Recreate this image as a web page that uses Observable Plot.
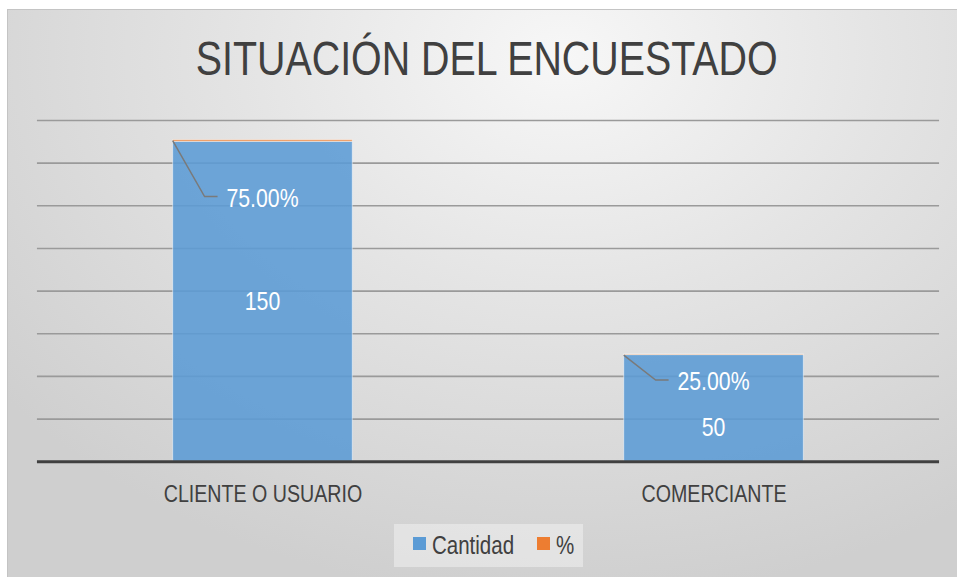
<!DOCTYPE html>
<html>
<head>
<meta charset="utf-8">
<script src="https://cdn.jsdelivr.net/npm/d3@7"></script>
<script src="https://cdn.jsdelivr.net/npm/@observablehq/plot@0.6"></script>
<style>
  html, body { margin: 0; padding: 0; background: #ffffff; overflow: hidden; }
  body { width: 957px; height: 577px; position: relative; }
  #chart {
    position: absolute; left: 7px; top: 9px; width: 960px; height: 575px;
    box-sizing: border-box; border: 1px solid #c4c4c4;
    background: radial-gradient(ellipse 75% 95% at 58% 8%, #f7f7f7 0%, #e4e4e4 45%, #cfcfcf 100%);
    font-family: "Liberation Sans", Arial, sans-serif;
    overflow: hidden;
  }
  .narrow { display: inline-block; transform: scaleX(0.82); transform-origin: center; white-space: nowrap; }
  #title {
    position: absolute; left: 0; top: 21px; width: 958px; text-align: center;
    font-size: 48px; line-height: 56px; color: #404040;
  }
  #plot { position: absolute; left: 0; top: 90px; }
  #legend {
    position: absolute; left: 386px; top: 514px; width: 189px; height: 43px;
    background: rgba(240,240,240,0.55);
    font-size: 25px; color: #404040;
  }
  .sw { position: absolute; width: 13px; height: 13px; top: 13px; }
  .lbl { position: absolute; top: 0; transform-origin: left center; }
</style>
</head>
<body>
<div id="chart">
  <div id="title"><span class="narrow">SITUACIÓN DEL ENCUESTADO</span></div>
  <div id="plot"></div>
  <div id="legend"></div>
</div>
<script>
const categories = ["CLIENTE O USUARIO", "COMERCIANTE"];
const cantidad = [150, 50];
const porcentaje = [0.75, 0.25];
const series = ["Cantidad", "%"];
const seriesColors = ["#5B9BD5", "#ED7D31"];
const gridTicks = [20, 40, 60, 80, 100, 120, 140, 160];
const percentLabels = ["75.00%", "25.00%"];

const rows = categories.flatMap((c, i) => [
  {cat: c, serie: series[0], value: cantidad[i]},
  {cat: c, serie: series[1], value: porcentaje[i]}
]);

// per-label pixel offsets (style, not data)
const pctOffset = [57, 26];
const cantOffset = [0, 19];
const NARROW = 0.82;

function bw(x) { return typeof x.bandwidth === "function" ? x.bandwidth() : (x.bandwidth || 0); }

function labelMark(index, scales) {
  const g = d3.create("svg:g");
  const x = scales.x, y = scales.y, w = bw(x);
  categories.forEach((c, i) => {
    const left = x(c) + 136;
    const cx = x(c) + w / 2;
    const top = y(cantidad[i] + porcentaje[i]) + 1;
    const ly = top + pctOffset[i];
    g.append("path")
      .attr("d", `M${left},${top}L${left + 32},${ly - 1}L${left + 45},${ly - 1}`)
      .attr("fill", "none").attr("stroke", "#7a7a7a").attr("stroke-width", 1.5);
    g.append("text")
      .attr("transform", `translate(${cx},${ly})`)
      .attr("text-anchor", "middle").attr("dy", "0.35em")
      .attr("fill", "#ffffff").attr("font-size", 26)
      .text(percentLabels[i]);
    g.append("text")
      .attr("transform", `translate(${cx},${y(cantidad[i] / 2) + cantOffset[i]})`)
      .attr("text-anchor", "middle").attr("dy", "0.35em")
      .attr("fill", "#ffffff").attr("font-size", 26)
      .text(String(cantidad[i]));
  });
  return g.node();
}

const plot = Plot.plot({
  width: 960,
  height: 411,
  marginLeft: 29,
  marginRight: 27,
  marginTop: 20,
  marginBottom: 49,
  style: {background: "transparent", fontFamily: "'Liberation Sans', Arial, sans-serif"},
  x: {domain: categories, padding: 0, label: null},
  y: {domain: [0, 160], axis: null},
  color: {domain: series, range: seriesColors},
  marks: [
    Plot.ruleY(gridTicks, {stroke: "#9a9a9a", strokeWidth: 1.6}),
    Plot.barY(rows, {x: "cat", y: "value", fill: "serie", fillOpacity: 0.88,
      stroke: "#ffffff", strokeOpacity: 0.5, strokeWidth: 1,
      insetLeft: 136, insetRight: 136}),
    Plot.ruleY([0], {stroke: "#404040", strokeWidth: 3}),
    Plot.axisX({tickSize: 0, tickPadding: 23, fontSize: 24, fill: "#404040", fillOpacity: 1, label: null}),
    labelMark
  ]
});

// narrow every text horizontally (Arial Narrow look), keeping its anchor point
plot.querySelectorAll("text").forEach(t => {
  const tr = t.getAttribute("transform");
  if (tr && /translate/.test(tr)) {
    t.setAttribute("transform", tr + ` scale(${NARROW},1)`);
  } else {
    const xv = +(t.getAttribute("x") || 0), yv = +(t.getAttribute("y") || 0);
    t.removeAttribute("x"); t.removeAttribute("y");
    t.setAttribute("transform", `${tr ? tr + " " : ""}translate(${xv},${yv}) scale(${NARROW},1)`);
  }
});
document.getElementById("plot").appendChild(plot);

// legend
const legend = document.getElementById("legend");
const legendPos = [{sw: 19, lbl: 38}, {sw: 143, lbl: 162}];
series.forEach((s, i) => {
  const sw = document.createElement("span");
  sw.className = "sw";
  sw.style.left = legendPos[i].sw + "px";
  sw.style.background = seriesColors[i];
  legend.appendChild(sw);
  const lbl = document.createElement("span");
  lbl.className = "lbl narrow";
  lbl.style.left = legendPos[i].lbl + "px";
  lbl.style.lineHeight = "43px";
  lbl.style.transformOrigin = "left center";
  lbl.textContent = s;
  legend.appendChild(lbl);
});
</script>
</body>
</html>
